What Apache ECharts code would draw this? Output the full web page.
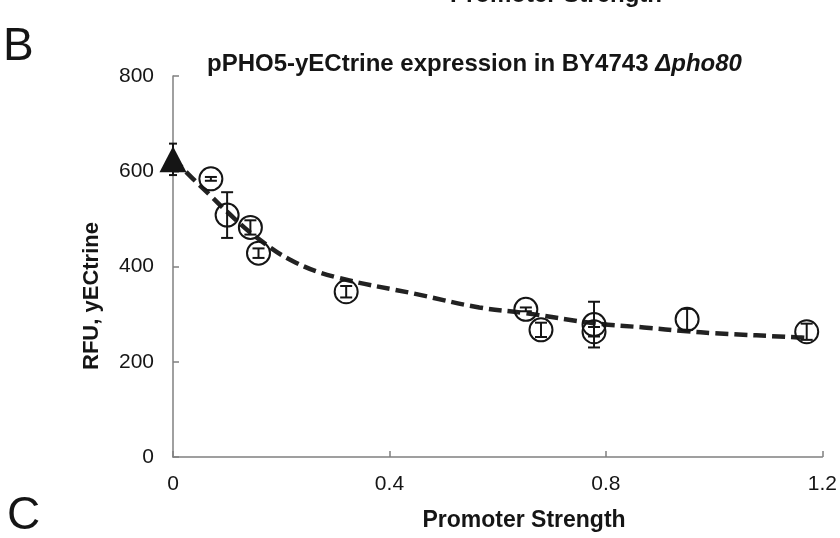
<!DOCTYPE html>
<html>
<head>
<meta charset="utf-8">
<script src="https://cdn.jsdelivr.net/npm/echarts@6.0.0/dist/echarts.min.js"></script>
<style>
  html, body { margin: 0; padding: 0; background: #fff; }
  #chart { width: 840px; height: 538px; }
</style>
</head>
<body>
<div id="chart"></div>
<script>
// values
const xTicks = [0, 0.4, 0.8, 1.2];
const yTicks = [0, 200, 400, 600, 800];

const pointX = [0.07, 0.10, 0.143, 0.158, 0.32, 0.652, 0.68, 0.778, 0.778, 0.95, 1.171];
const pointY = [584, 508, 482, 428, 347, 310, 267, 278, 263, 289, 263];
const pointErr = [4, 48, 15, 10, 12, 4, 15, 48, 10, 22, 17];

const controlX = [0];
const controlY = [625];
const controlErr = [33];

const fitX = [0, 0.03, 0.07, 0.10, 0.15, 0.22, 0.30, 0.45, 0.566, 0.652, 0.778, 0.87, 0.95, 1.0, 1.156, 1.17];
const fitY = [628, 592, 548, 515, 465, 412, 378, 342, 314, 302, 281, 272, 264, 260, 251, 250];

const font = "'Liberation Sans', Arial, sans-serif";
const ink = "#151515";

const chart = echarts.init(document.getElementById("chart"));

function errorBars(xs, ys, errs, cap) {
  return {
    type: "custom",
    clip: false,
    z: 4,
    data: xs.map((x, i) => [x, ys[i] - errs[i], ys[i] + errs[i]]),
    renderItem: (params, api) => {
      const lo = api.coord([api.value(0), api.value(1)]);
      const hi = api.coord([api.value(0), api.value(2)]);
      const st = { stroke: ink, lineWidth: 2 };
      return {
        type: "group",
        children: [
          { type: "line", shape: { x1: lo[0], y1: lo[1], x2: hi[0], y2: hi[1] }, style: st },
          { type: "line", shape: { x1: lo[0] - cap, y1: lo[1], x2: lo[0] + cap, y2: lo[1] }, style: st },
          { type: "line", shape: { x1: hi[0] - cap, y1: hi[1], x2: hi[0] + cap, y2: hi[1] }, style: st }
        ]
      };
    }
  };
}

chart.setOption({
  backgroundColor: "#fff",
  animation: false,
  title: {
    text: "{a|pPHO5-yECtrine expression in BY4743 }{b|Δpho80}",
    left: 202,
    top: 47,
    textStyle: {
      rich: {
        a: { fontFamily: font, fontWeight: "bold", fontSize: 24, color: ink },
        b: { fontFamily: font, fontWeight: "bold", fontStyle: "italic", fontSize: 24, color: ink }
      }
    }
  },
  graphic: [
    { type: "text", left: 3, top: 24, style: { text: "B", font: "46px " + font, fill: ink } },
    { type: "text", left: 7, top: 493, style: { text: "C", font: "46px " + font, fill: ink } },
    { type: "text", x: 556, y: -5, style: { text: "Promoter Strength", font: "bold 24px " + font, fill: ink, align: "center", verticalAlign: "middle" } },
    { type: "text", x: 524, y: 521, style: { text: "Promoter Strength", font: "bold 23px " + font, fill: ink, align: "center", verticalAlign: "middle" } },
    { type: "text", x: 92, y: 296, rotation: Math.PI / 2, style: { text: "RFU, yECtrine", font: "bold 22px " + font, fill: ink, align: "center", verticalAlign: "middle" } }
  ],
  grid: { left: 173, right: 16, top: 76, bottom: 81 },
  xAxis: {
    type: "value",
    min: xTicks[0],
    max: xTicks[xTicks.length - 1],
    interval: 0.4,
    splitLine: { show: false },
    axisLine: { lineStyle: { color: "#808080", width: 1.5 } },
    axisTick: { inside: true, length: 6, lineStyle: { color: "#808080", width: 1.5 } },
    axisLabel: { fontFamily: font, fontSize: 21, color: ink, margin: 17, formatter: v => String(v) }
  },
  yAxis: {
    type: "value",
    min: yTicks[0],
    max: yTicks[yTicks.length - 1],
    interval: 200,
    splitLine: { show: false },
    axisLine: { show: true, lineStyle: { color: "#808080", width: 1.5 } },
    axisTick: { show: true, inside: true, length: 6, lineStyle: { color: "#808080", width: 1.5 } },
    axisLabel: { fontFamily: font, fontSize: 21, color: ink, margin: 19 }
  },
  series: [
    {
      type: "line",
      data: fitX.map((x, i) => [x, fitY[i]]),
      smooth: 0.4,
      showSymbol: false,
      symbol: "none",
      z: 2,
      lineStyle: { color: "#222", width: 4.5, type: [13, 6] }
    },
    errorBars(pointX, pointY, pointErr, 6),
    errorBars(controlX, controlY, controlErr, 4),
    {
      type: "scatter",
      clip: false,
      z: 5,
      symbol: "circle",
      symbolSize: 23,
      data: pointX.map((x, i) => [x, pointY[i]]),
      itemStyle: { color: "rgba(255,255,255,0)", borderColor: ink, borderWidth: 2, opacity: 1 }
    },
    {
      type: "scatter",
      clip: false,
      z: 5,
      symbol: "triangle",
      symbolSize: [27, 26],
      data: controlX.map((x, i) => [x, controlY[i]]),
      itemStyle: { color: ink, opacity: 1 }
    }
  ]
});
</script>
</body>
</html>
